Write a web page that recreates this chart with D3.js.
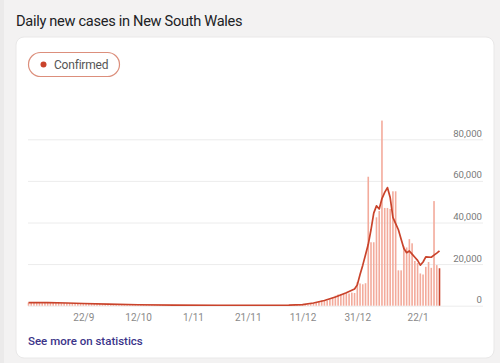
<!DOCTYPE html>
<html>
<head>
<meta charset="utf-8">
<script src="https://cdn.jsdelivr.net/npm/d3@7"></script>
<style>
  html, body { margin: 0; padding: 0; background: #f3f2f2; }
  svg { display: block; font-family: Roboto, "Noto Sans", sans-serif; }
</style>
</head>
<body>
<div id="chart"></div>
<script>
/* Daily new cases in NSW — daily bars plus smoothed line. */

var startDate = "2021-09-02";

// daily confirmed cases
var casesSep = [1430, 1290, 1530, 1480, 1280, 1220, 1480, 1400, 1540, 1600, 1260, 1260, 1130, 1260, 1350,
  1280, 1330, 1080, 1020, 940, 1060, 1040, 1060, 1040, 960, 790, 860, 670, 860];
var casesOct = [940, 810, 670, 620, 610, 590, 580, 480, 580, 500, 360, 440, 410, 400, 320, 300, 270, 270,
  280, 370, 350, 280, 290, 300, 270, 280, 290, 300, 270, 240, 180];
var casesNov = [170, 190, 310, 250, 220, 220, 240, 210, 190, 190, 260, 250, 180, 170, 190, 140, 220, 170,
  180, 200, 180, 160, 140, 180, 260, 250, 260, 150, 200, 260];
var casesDec = [270, 330, 310, 320, 240, 210, 260, 400, 420, 520, 560, 540, 490, 800, 1300, 1700, 2200,
  2500, 2600, 2500, 3100, 3800, 4800, 5400, 5600, 5800, 6000, 5900, 6300, 6100, 11300];
var casesJan = [10700, 10300, 10800, 62000, 30500, 30500, 42500, 45500, 89000, 47000, 47000, 46500,
  55000, 55000, 17000, 17000, 28500, 28000, 32000, 30000, 21500, 20500, 15500, 15000, 18700, 21000,
  18200, 50300, 19500, 18000];

// smoothed line, points
var avgDates = ["2021-09-02", "2021-09-09", "2021-09-16", "2021-09-22", "2021-10-01", "2021-10-12",
  "2021-10-25", "2021-11-10", "2021-11-28", "2021-12-06", "2021-12-11", "2021-12-15", "2021-12-19",
  "2021-12-23", "2021-12-27", "2021-12-30", "2021-12-31", "2022-01-01", "2022-01-02", "2022-01-03",
  "2022-01-04", "2022-01-05", "2022-01-06", "2022-01-07", "2022-01-08", "2022-01-09", "2022-01-10",
  "2022-01-11", "2022-01-12", "2022-01-13", "2022-01-14", "2022-01-15", "2022-01-16", "2022-01-17",
  "2022-01-18", "2022-01-19", "2022-01-20", "2022-01-21", "2022-01-22", "2022-01-23", "2022-01-24",
  "2022-01-25", "2022-01-26", "2022-01-27", "2022-01-28", "2022-01-29", "2022-01-30"];
var avgValues = [1450, 1500, 1300, 1050, 750, 450, 300, 220, 220, 300, 550, 1300, 2500,
  4200, 6200, 8000, 10000, 15000, 19500, 24500, 29500, 36500, 44500, 48000, 46500, 51500, 54500,
  56800, 52000, 42500, 39500, 36500, 32000, 27500, 25500, 26300, 24800, 23300, 21800, 19500, 21000,
  23500, 23400, 23300, 24300, 25300, 26400];

var yTicks = [0, 20000, 40000, 60000, 80000];
var xTickDates = ["2021-09-22", "2021-10-12", "2021-11-01", "2021-11-21", "2021-12-11", "2021-12-31", "2022-01-22"];

var parse = d3.timeParse("%Y-%m-%d");
var cases = casesSep.concat(casesOct, casesNov, casesDec, casesJan);
var t0 = parse(startDate);
var data = cases.map(function (v, i) { return { date: d3.timeDay.offset(t0, i), value: v }; });
var avg = avgDates.map(function (d, i) { return { date: parse(d), value: avgValues[i] }; });

var W = 500, H = 363;
var svg = d3.select("#chart").append("svg").attr("width", W).attr("height", H);

svg.append("rect").attr("x", 0).attr("y", 0).attr("width", 4).attr("height", H).attr("fill", "#ebeaea");

svg.append("text").attr("x", 16).attr("y", 26)
  .attr("font-size", 14.6).attr("letter-spacing", -0.3).attr("fill", "#202124")
  .text("Daily new cases in New South Wales");

// card
svg.append("rect").attr("x", 16).attr("y", 37).attr("width", 478).attr("height", 321).attr("rx", 8)
  .attr("fill", "#fff").attr("stroke", "#e9e8e8").attr("stroke-width", 1);

// legend pill
var lg = svg.append("g");
lg.append("rect").attr("x", 28.5).attr("y", 52.5).attr("width", 91).attr("height", 24).attr("rx", 12)
  .attr("fill", "#fff").attr("stroke", "#dc8f7c").attr("stroke-width", 1.2);
lg.append("circle").attr("cx", 43.5).attr("cy", 64.5).attr("r", 3).attr("fill", "#c9432b");
lg.append("text").attr("x", 54).attr("y", 69).attr("font-size", 12).attr("letter-spacing", -0.2)
  .attr("fill", "#555").text("Confirmed");

var x = d3.scaleTime()
  .domain([data[0].date, data[data.length - 1].date])
  .range([28.5, 439.5]);
var y = d3.scaleLinear().domain([0, 80000]).range([305.7, 139.3]);

// y grid + labels on right
var gy = svg.append("g").attr("transform", "translate(28,0)")
  .call(d3.axisRight(y).tickValues(yTicks).tickSize(455).tickFormat(d3.format(",")));
gy.select(".domain").remove();
gy.selectAll(".tick line").attr("stroke", "#ececec");
gy.selectAll(".tick text").attr("x", 454).attr("dy", "-3").attr("text-anchor", "end")
  .attr("font-size", 9.6).attr("fill", "#7a7a7a").attr("font-family", "Roboto, sans-serif");

// x axis
var gx = svg.append("g").attr("transform", "translate(0," + y(0) + ")")
  .call(d3.axisBottom(x).tickValues(xTickDates.map(parse)).tickSize(0).tickPadding(8)
    .tickFormat(d3.timeFormat("%-d/%-m")));
gx.select(".domain").remove();
gx.selectAll(".tick text").attr("font-size", 10).attr("fill", "#8a8a8a").attr("font-family", "Roboto, sans-serif");

// bars
var bw = 1.6;
svg.append("g").selectAll("rect").data(data).join("rect")
  .attr("x", function (d) { return x(d.date) - bw / 2; })
  .attr("y", function (d) { return y(d.value); })
  .attr("width", bw)
  .attr("height", function (d) { return y(0) - y(d.value); })
  .attr("fill", function (d, i) { return i === data.length - 1 ? "#c9432b" : "#f3ab9c"; });

// line
var line = d3.line()
  .x(function (d) { return x(d.date); })
  .y(function (d) { return y(d.value); });
svg.append("path").datum(avg)
  .attr("fill", "none").attr("stroke", "#c9432b").attr("stroke-width", 1.7)
  .attr("stroke-linejoin", "round").attr("d", line);

svg.append("text").attr("x", 28).attr("y", 345).attr("font-size", 11.5).attr("font-weight", 500)
  .attr("fill", "#3b3489").text("See more on statistics");
</script>
</body>
</html>
